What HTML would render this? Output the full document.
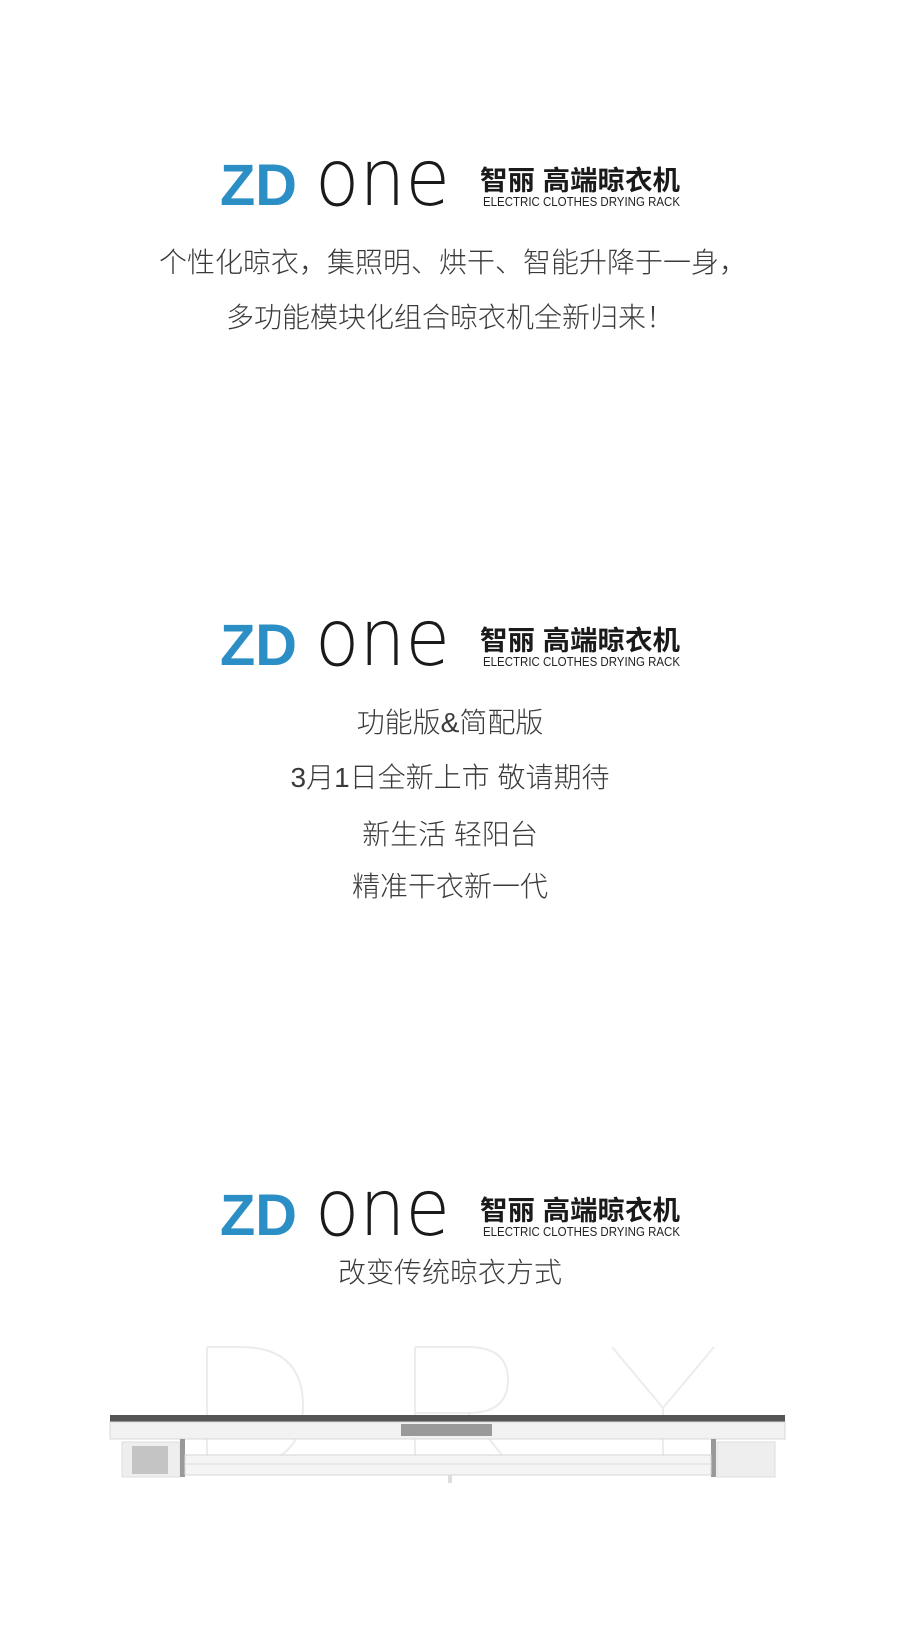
<!DOCTYPE html>
<html><head><meta charset="utf-8"><style>
html,body{margin:0;padding:0;background:#fff;}
body{width:900px;height:1632px;position:relative;overflow:hidden;font-family:"Liberation Sans","Noto Sans CJK SC",sans-serif;}
.logo{position:absolute;left:0;width:900px;height:60px;}
.line{position:absolute;left:0;width:900px;text-align:center;font-size:28px;color:#3a3a3a;line-height:34px;font-family:"Liberation Sans","Noto Sans CJK SC",sans-serif;font-weight:300;}
</style></head><body>
<svg class="logo" style="top:155px" width="900" height="60">
 <text x="220" y="50" font-size="58" font-weight="bold" fill="#2b8fc5" textLength="77" lengthAdjust="spacingAndGlyphs" font-family="Liberation Sans">ZD</text>
 <text x="315" y="50" font-size="78" font-weight="200" fill="#1a1a1a" textLength="135" lengthAdjust="spacingAndGlyphs" font-family="DejaVu Sans ExtraLight, DejaVu Sans, Liberation Sans">one</text>
 <text x="480" y="35" font-size="27" font-weight="600" fill="#1a1a1a" textLength="200" lengthAdjust="spacingAndGlyphs" font-family="Liberation Sans, Noto Sans CJK SC, sans-serif">智丽 高端晾衣机</text>
 <text x="483" y="51" font-size="12.5" fill="#222" textLength="197" lengthAdjust="spacingAndGlyphs" font-family="Liberation Sans">ELECTRIC CLOTHES DRYING RACK</text>
</svg>
<div class="line" style="top:246px;padding-left:6px;box-sizing:border-box">个性化晾衣，集照明、烘干、智能升降于一身，</div>
<div class="line" style="top:301px">多功能模块化组合晾衣机全新归来！</div>

<svg class="logo" style="top:615px" width="900" height="60">
 <text x="220" y="50" font-size="58" font-weight="bold" fill="#2b8fc5" textLength="77" lengthAdjust="spacingAndGlyphs" font-family="Liberation Sans">ZD</text>
 <text x="315" y="50" font-size="78" font-weight="200" fill="#1a1a1a" textLength="135" lengthAdjust="spacingAndGlyphs" font-family="DejaVu Sans ExtraLight, DejaVu Sans, Liberation Sans">one</text>
 <text x="480" y="35" font-size="27" font-weight="600" fill="#1a1a1a" textLength="200" lengthAdjust="spacingAndGlyphs" font-family="Liberation Sans, Noto Sans CJK SC, sans-serif">智丽 高端晾衣机</text>
 <text x="483" y="51" font-size="12.5" fill="#222" textLength="197" lengthAdjust="spacingAndGlyphs" font-family="Liberation Sans">ELECTRIC CLOTHES DRYING RACK</text>
</svg>
<div class="line" style="top:706px">功能版&amp;简配版</div>
<div class="line" style="top:761px">3月1日全新上市 敬请期待</div>
<div class="line" style="top:818px">新生活 轻阳台</div>
<div class="line" style="top:870px">精准干衣新一代</div>

<svg class="logo" style="top:1185px" width="900" height="60">
 <text x="220" y="50" font-size="58" font-weight="bold" fill="#2b8fc5" textLength="77" lengthAdjust="spacingAndGlyphs" font-family="Liberation Sans">ZD</text>
 <text x="315" y="50" font-size="78" font-weight="200" fill="#1a1a1a" textLength="135" lengthAdjust="spacingAndGlyphs" font-family="DejaVu Sans ExtraLight, DejaVu Sans, Liberation Sans">one</text>
 <text x="480" y="35" font-size="27" font-weight="600" fill="#1a1a1a" textLength="200" lengthAdjust="spacingAndGlyphs" font-family="Liberation Sans, Noto Sans CJK SC, sans-serif">智丽 高端晾衣机</text>
 <text x="483" y="51" font-size="12.5" fill="#222" textLength="197" lengthAdjust="spacingAndGlyphs" font-family="Liberation Sans">ELECTRIC CLOTHES DRYING RACK</text>
</svg>
<div class="line" style="top:1256px">改变传统晾衣方式</div>

<svg style="position:absolute;left:0;top:1340px" width="900" height="200">
 <g fill="none" stroke="#ececec" stroke-width="2">
  <path d="M207 7 V125 M207 7 H240 Q303 7 303 66 Q303 125 240 125 H207"/>
  <path d="M415 7 V125 M415 7 H468 Q508 7 508 40 Q508 73 468 73 H415 M468 73 L510 125"/>
  <path d="M612 7 L663 68 L714 7 M663 68 V125"/>
 </g>
 <rect x="110" y="75" width="675" height="7" fill="#555"/>
 <rect x="110" y="82" width="675" height="17" fill="#f2f2f2" stroke="#d8d8d8"/>
 <rect x="401" y="84" width="91" height="12" fill="#9a9a9a"/>
 <rect x="122" y="102" width="58" height="35" fill="#eeeeee" stroke="#ddd"/>
 <rect x="132" y="106" width="36" height="28" fill="#c4c4c4"/>
 <rect x="717" y="102" width="58" height="35" fill="#eeeeee" stroke="#ddd"/>
 <rect x="180" y="99" width="5" height="38" fill="#999"/>
 <rect x="711" y="99" width="5" height="38" fill="#999"/>
 <rect x="185" y="115" width="526" height="20" fill="#f5f5f5" stroke="#d6d6d6"/>
 <line x1="185" y1="124" x2="711" y2="124" stroke="#dcdcdc"/>
 <rect x="448" y="135" width="4" height="8" fill="#ddd"/>
</svg>
</body></html>
